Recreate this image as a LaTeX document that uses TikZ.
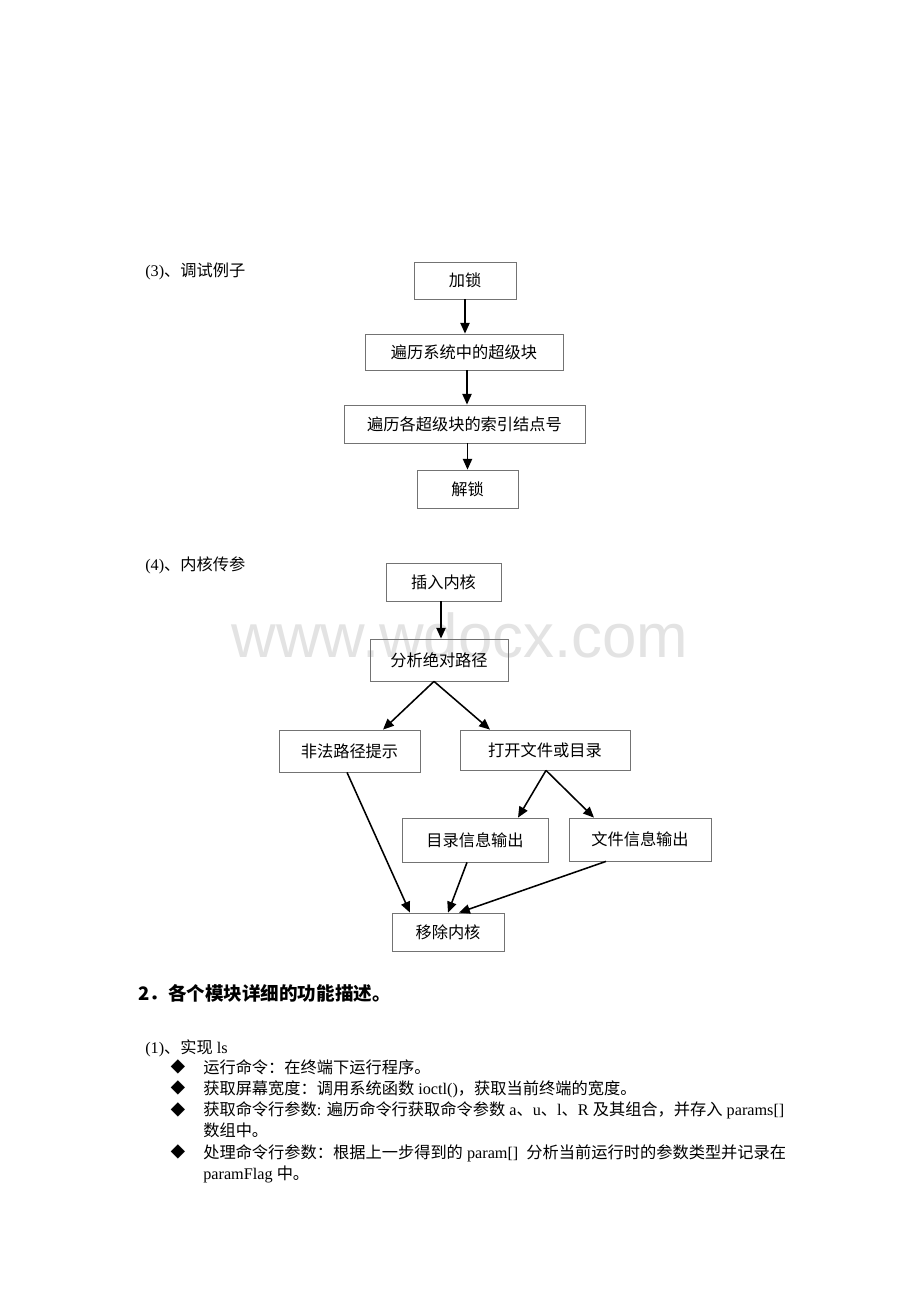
\documentclass[tikz,border=0pt]{standalone}
\usepackage{fontspec}
\setmainfont{Liberation Serif}
\newfontfamily\cjk{Noto Sans CJK SC}
\newfontfamily\wmfont{Liberation Sans}
\usetikzlibrary{arrows.meta,calc}
\begin{document}
\begin{tikzpicture}[x=0.647pt,y=-0.647pt,
  box/.style={draw=black!55,line width=0.5pt,inner sep=0pt,font=\cjk\fontsize{10.5}{12}\selectfont},
  sz/.style 2 args={minimum width=#1*0.647pt,minimum height=#2*0.647pt},
  arr/.style={line width=1pt,-{Triangle[length=7pt,width=6pt]}},
  txt/.style={anchor=base west,inner sep=0pt,font=\fontsize{10.5}{12}\selectfont},
  bul/.style={inner sep=0pt,font=\cjk\fontsize{9.5}{10}\selectfont}]
\useasboundingbox[fill=white] (0,0) rectangle (920,1302);

% watermark
\node[inner sep=0pt,font=\wmfont\fontsize{40}{40}\selectfont,text=black!11] (wm) at (460,635) {www.wdocx.com};

% section (3)
\node[txt] (t3) at (145,276) {(3){\cjk 、调试例子}};
\node[box,sz={102}{37}] (lock) at (465,280.5) {加锁};
\node[box,sz={198}{36}] (trav1) at (464,352) {遍历系统中的超级块};
\node[box,sz={241}{38}] (trav2) at (464.5,424) {遍历各超级块的索引结点号};
\node[box,sz={101}{38}] (unlock) at (467.5,489) {解锁};
\draw[arr] (lock.south) -- (lock.south |- trav1.north);
\draw[arr] ($(trav1.south)+(3,0)$) coordinate (a1) -- (a1 |- trav2.north);
\draw[arr] (unlock.north |- trav2.south) -- (unlock.north);

% section (4)
\node[txt] (t4) at (145,570) {(4){\cjk 、内核传参}};
\node[box,sz={115}{38}] (insert) at (443.5,582) {插入内核};
\node[box,sz={138}{42}] (analyze) at (439,660) {分析绝对路径};
\node[box,sz={141}{42}] (illegal) at (349.5,751) {非法路径提示};
\node[box,sz={170}{40}] (open) at (545,750) {打开文件或目录};
\node[box,sz={146}{44}] (dirout) at (475,840) {目录信息输出};
\node[box,sz={142}{43}] (fileout) at (640,839.5) {文件信息输出};
\node[box,sz={112}{38}] (remove) at (448,932) {移除内核};

\draw[arr] ($(insert.south)+(-2.5,0)$) coordinate (b1) -- (b1 |- analyze.north);
\draw[arr] ($(analyze.south)+(-5,0)$) -- ($(illegal.north)+(33.5,0)$);
\draw[arr] ($(analyze.south)+(-5,0)$) -- ($(open.north)+(-55,0)$);
\draw[arr] ($(open.south)+(1,0)$) -- ($(dirout.north)+(43,0)$);
\draw[arr] ($(open.south)+(1,0)$) -- ($(fileout.north)+(-46,0)$);
\draw[arr] ($(illegal.south)+(-2.5,0)$) -- ($(remove.north)+(-38,0)$);
\draw[arr] ($(dirout.south)+(-8,0)$) -- (remove.north);
\draw[arr] ($(fileout.south)+(-34,0)$) -- ($(remove.north)+(11,0)$);

% section 2
\node[anchor=base west,inner sep=0pt,font=\cjk\bfseries\fontsize{12}{14}\selectfont] (h2) at (138,1000) {2．各个模块详细的功能描述。};
\node[txt] (t1) at (145,1053) {(1){\cjk 、实现} ls};

\node[bul] (d1) at (178,1067) {◆};
\node[bul] (d2) at (178,1088) {◆};
\node[bul] (d3) at (178,1109.5) {◆};
\node[bul] (d4) at (178,1152) {◆};

\node[txt] (l1) at (203,1073) {\cjk 运行命令：在终端下运行程序。};
\node[txt] (l2) at (203,1094) {{\cjk 获取屏幕宽度：调用系统函数} ioctl(){\cjk ，获取当前终端的宽度。}};
\node[txt] (l3) at (203,1115.5) {{\cjk 获取命令行参数}: {\cjk 遍历命令行获取命令参数} a{\cjk 、}u{\cjk 、}l{\cjk 、}R {\cjk 及其组合，并存入} params[]};
\node[txt] (l4) at (203,1136.5) {\cjk 数组中。};
\node[txt] (l5) at (203,1158) {{\cjk 处理命令行参数：根据上一步得到的} param[]\ \ {\cjk 分析当前运行时的参数类型并记录在}};
\node[txt] (l6) at (203,1179) {paramFlag {\cjk 中。}};
\end{tikzpicture}
\end{document}
